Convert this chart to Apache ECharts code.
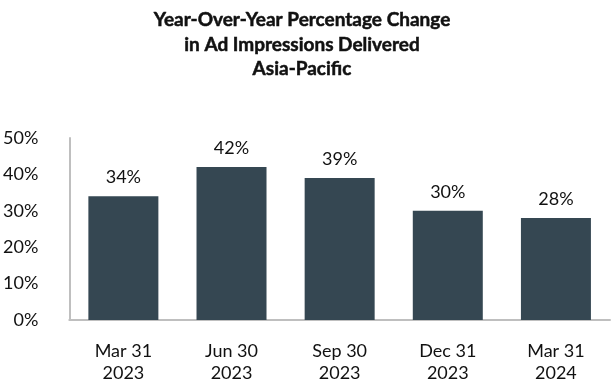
<!DOCTYPE html>
<html>
<head>
<meta charset="utf-8">
<script src="https://cdn.jsdelivr.net/npm/echarts@6/dist/echarts.min.js"></script>
<style>html,body{margin:0;padding:0;background:#fff}#c{width:614px;height:384px}</style>
</head>
<body>
<div id="c"></div>
<script>
var categories = ['Mar 31\n2023', 'Jun 30\n2023', 'Sep 30\n2023', 'Dec 31\n2023', 'Mar 31\n2024'];
var values = [34, 42, 39, 30, 28];
var yTicks = [0, 10, 20, 30, 40, 50];
var titleLines = ['Year-Over-Year Percentage Change', 'in Ad Impressions Delivered', 'Asia-Pacific'];

var FONT = 'Lato';
var chart = echarts.init(document.getElementById('c'));
chart.setOption({
  animation: false,
  title: {
    text: titleLines.join('\n'),
    left: 297, top: 3, textAlign: 'center',
    textStyle: { fontFamily: FONT, fontWeight: 'bold', fontSize: 19, lineHeight: 24.5, color: '#111',
      textBorderColor: '#111', textBorderWidth: 0.5 }
  },
  grid: { left: 69, right: 4, top: 138, bottom: 63 },
  xAxis: {
    type: 'category', data: categories,
    axisLine: { lineStyle: { color: '#bfbfbf', width: 2 } },
    axisTick: { show: false },
    axisLabel: { fontFamily: FONT, fontSize: 18, lineHeight: 22, color: '#111', margin: 20 }
  },
  yAxis: {
    type: 'value', min: yTicks[0], max: yTicks[yTicks.length - 1], interval: 10,
    axisLine: { show: true, lineStyle: { color: '#bfbfbf', width: 2 } },
    axisTick: { show: false },
    splitLine: { show: false },
    axisLabel: { fontFamily: FONT, fontSize: 18, color: '#111', margin: 31, padding: [6, 0, 0, 0],
      formatter: function (v) { return v + '%'; } }
  },
  series: [{
    type: 'bar', data: values, barWidth: 70,
    itemStyle: { color: '#354752' },
    label: { show: true, position: 'top', distance: 10, fontFamily: FONT, fontSize: 18, color: '#111',
      formatter: function (p) { return p.value + '%'; } }
  }]
});
</script>
</body>
</html>
